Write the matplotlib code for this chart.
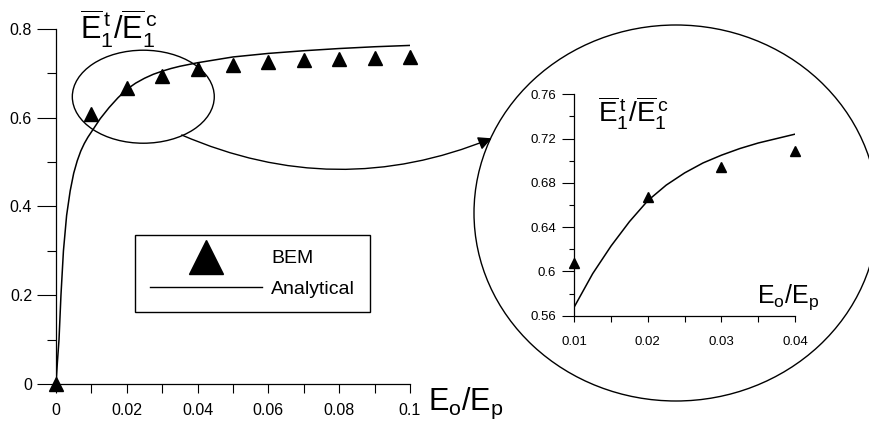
import matplotlib
matplotlib.use('Agg')
import matplotlib.pyplot as plt
from matplotlib.patches import Ellipse
from matplotlib.lines import Line2D
from matplotlib.ticker import MultipleLocator, FuncFormatter

plt.rcParams['font.family'] = ['Liberation Sans', 'DejaVu Sans']
plt.rcParams['mathtext.fontset'] = 'custom'
plt.rcParams['mathtext.rm'] = 'Liberation Sans'
plt.rcParams['mathtext.it'] = 'Liberation Sans'
plt.rcParams['mathtext.bf'] = 'Liberation Sans:bold'

# BEM results
bem_x = [0, 0.01, 0.02, 0.03, 0.04, 0.05, 0.06, 0.07, 0.08, 0.09, 0.1]
bem_y = [0, 0.608, 0.667, 0.694, 0.709, 0.720, 0.726, 0.730, 0.732, 0.735, 0.736]

# analytical curve
ana_x = [0, 0.0004, 0.00085, 0.0014, 0.0021, 0.003, 0.004, 0.005, 0.006,
         0.007, 0.008, 0.009, 0.01, 0.0125, 0.015, 0.0175, 0.02, 0.0225,
         0.025, 0.0275, 0.03, 0.0325, 0.035, 0.0375, 0.04, 0.05, 0.06, 0.07,
         0.08, 0.09, 0.1]
ana_y = [0, 0.05, 0.1, 0.2, 0.3, 0.38, 0.435, 0.475, 0.503,
         0.525, 0.542, 0.556, 0.568, 0.598, 0.623, 0.645, 0.664, 0.678,
         0.689, 0.698, 0.705, 0.711, 0.716, 0.720, 0.724, 0.737, 0.745, 0.751,
         0.756, 0.760, 0.763]

ylab = r'$\overline{\mathrm{E}}_1^{\,\mathrm{t}}/\overline{\mathrm{E}}_1^{\,\mathrm{c}}$'
xlab = r'$\mathrm{E}_\mathrm{o}/\mathrm{E}_\mathrm{p}$'

W, H = 870, 424
fig = plt.figure(figsize=(8.7, 4.24), dpi=100)


def fmt(v, pos):
    return '%g' % round(v, 4)


def style(ax):
    for s in ['top', 'right']:
        ax.spines[s].set_visible(False)
    for s in ['left', 'bottom']:
        ax.spines[s].set_linewidth(0.9)
    ax.xaxis.set_major_formatter(FuncFormatter(fmt))
    ax.yaxis.set_major_formatter(FuncFormatter(fmt))


# ---- main plot
ax = fig.add_axes([56 / W, 1 - 384 / H, 354 / W, 355 / H])
style(ax)
ax.set_xlim(0, 0.1)
ax.set_ylim(0, 0.8)
ax.xaxis.set_major_locator(MultipleLocator(0.02))
ax.xaxis.set_minor_locator(MultipleLocator(0.01))
ax.yaxis.set_major_locator(MultipleLocator(0.2))
ax.yaxis.set_minor_locator(MultipleLocator(0.1))
ax.tick_params(axis='y', which='major', direction='out', length=13.7, width=0.8,
               labelsize=11.5, pad=3.5)
ax.tick_params(axis='y', which='minor', direction='out', length=6.5, width=0.8)
ax.tick_params(axis='x', which='both', direction='out', length=6.5, width=0.8,
               labelsize=11.5, pad=7.5)

ax.plot(ana_x, ana_y, color='black', lw=1.1)
ax.plot(bem_x, bem_y, ls='none', marker='^', ms=10, color='black', clip_on=False)

ax.add_patch(Ellipse((0.02466, 0.6474), 0.0401, 0.2096, fill=False,
                     edgecolor='black', lw=1.0, clip_on=False))

handles = [Line2D([], [], ls='none', marker='^', ms=24, color='black'),
           Line2D([], [], color='black', lw=1.0)]
leg = ax.legend(handles, ['BEM', 'Analytical'], loc='lower left',
                bbox_to_anchor=(0.223, 0.202), borderaxespad=0, fontsize=14,
                handlelength=5.77, handletextpad=0.5, labelspacing=0.65,
                borderpad=0.75, fancybox=False, framealpha=1)
leg.get_frame().set_edgecolor('black')
leg.get_frame().set_linewidth(1.0)

fig.text(80 / W, 1 - 39.5 / H, ylab, fontsize=22, ha='left', va='baseline')
fig.text(428 / W, 1 - 410 / H, xlab, fontsize=22, ha='left', va='baseline')

# ---- zoom circle and arrow
fig.add_artist(Ellipse((676 / W, 1 - 213 / H), 404 / W, 376 / H, fill=False,
                       edgecolor='black', lw=1.0, transform=fig.transFigure))
ax.annotate('', xy=(491.7, H - 138.3), xycoords='figure pixels',
            xytext=(181.7, H - 135), textcoords='figure pixels',
            arrowprops=dict(arrowstyle='-|>', color='black', lw=1.0,
                            mutation_scale=20, shrinkA=0, shrinkB=0,
                            connectionstyle='arc3,rad=0.21'))

# ---- inset
ax2 = fig.add_axes([574.3 / W, 1 - 315.7 / H, 220.7 / W, 221.4 / H])
style(ax2)
ax2.patch.set_alpha(0)
ax2.set_xlim(0.01, 0.04)
ax2.set_ylim(0.56, 0.76)
ax2.xaxis.set_major_locator(MultipleLocator(0.01))
ax2.xaxis.set_minor_locator(MultipleLocator(0.005))
ax2.yaxis.set_major_locator(MultipleLocator(0.04))
ax2.yaxis.set_minor_locator(MultipleLocator(0.02))
ax2.tick_params(axis='y', which='major', direction='out', length=8.6, width=0.8,
                labelsize=9.5, pad=4.5)
ax2.tick_params(axis='y', which='minor', direction='out', length=3.6, width=0.8)
ax2.tick_params(axis='x', which='both', direction='out', length=4.3, width=0.8,
                labelsize=9.5, pad=10.5)

ax2.plot(ana_x, ana_y, color='black', lw=1.1)
ax2.plot(bem_x[1:5], bem_y[1:5], ls='none', marker='^', ms=7.5, color='black',
         clip_on=False)

fig.text(598.3 / W, 1 - 122.7 / H, ylab, fontsize=20, ha='left', va='baseline')
fig.text(756.7 / W, 1 - 302.3 / H, xlab, fontsize=18, ha='left', va='baseline')

fig.savefig('out.png', dpi=100)
